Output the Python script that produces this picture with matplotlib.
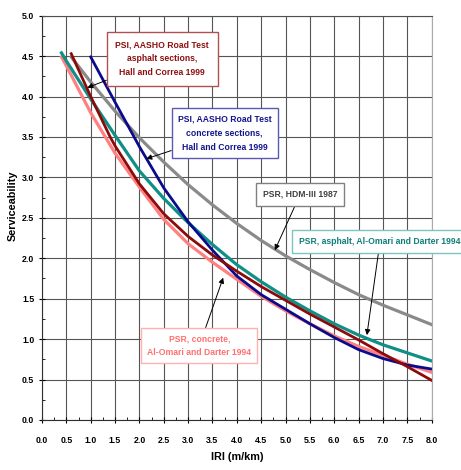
import numpy as np
import matplotlib.pyplot as plt
from matplotlib.ticker import MultipleLocator

# IRI (m/km) values and serviceability
iri_hdm = [0.6, 1.0, 1.5, 2.0, 2.5, 3.0, 3.5, 4.0, 4.5, 5.0, 5.5, 6.0, 6.5, 7.0, 7.5, 8.0]
psr_hdm = [4.49, 4.18, 3.82, 3.49, 3.19, 2.91, 2.66, 2.43, 2.22, 2.03, 1.86, 1.70, 1.55, 1.42, 1.30, 1.18]

iri_ac_om = [0.4, 0.5, 1.0, 1.5, 2.0, 2.5, 3.0, 3.5, 4.0, 4.5, 5.0, 5.5, 6.0, 6.5, 7.0, 7.5, 8.0]
psr_ac_om = [4.54, 4.44, 3.97, 3.52, 3.08, 2.74, 2.44, 2.17, 1.92, 1.71, 1.52, 1.35, 1.19, 1.05, 0.93, 0.83, 0.73]

iri_pcc_om = [0.4, 0.5, 1.0, 1.5, 2.0, 2.5, 3.0, 3.5, 4.0, 4.5, 5.0, 5.5, 6.0, 6.5, 7.0, 7.5, 8.0]
psr_pcc_om = [4.49, 4.38, 3.80, 3.30, 2.88, 2.48, 2.18, 1.95, 1.74, 1.53, 1.35, 1.19, 1.04, 0.91, 0.80, 0.69, 0.59]

iri_ac_hc = [0.6, 1.0, 1.4, 1.5, 2.0, 2.5, 3.0, 3.5, 4.0, 4.5, 5.0, 5.5, 6.0, 6.5, 7.0, 7.5, 8.0]
psi_ac_hc = [4.53, 4.00, 3.50, 3.39, 2.92, 2.55, 2.27, 2.04, 1.84, 1.65, 1.48, 1.31, 1.15, 0.99, 0.82, 0.66, 0.49]

iri_pcc_hc = [1.0, 1.5, 2.0, 2.5, 3.0, 3.5, 4.0, 4.5, 5.0, 5.5, 6.0, 6.5, 7.0, 7.5, 8.0]
psi_pcc_hc = [4.49, 3.93, 3.38, 2.87, 2.45, 2.10, 1.78, 1.55, 1.37, 1.19, 1.02, 0.87, 0.76, 0.68, 0.63]

plt.rcParams['font.family'] = ['Liberation Sans', 'DejaVu Sans']

fig = plt.figure(figsize=(4.61, 4.70), dpi=100)
ax = fig.add_axes([0.0911, 0.1064, 0.8453, 0.8602])

ax.plot(iri_hdm, psr_hdm, color='#8a8a8a', lw=2.3)
ax.plot(iri_pcc_om, psr_pcc_om, color='#ff8080', lw=2.3)
ax.plot(iri_ac_om, psr_ac_om, color='#0f8f86', lw=2.3)
ax.plot(iri_pcc_hc, psi_pcc_hc, color='#0a0a8c', lw=2.0)
ax.plot(iri_ac_hc, psi_ac_hc, color='#8c0a0a', lw=2.0)

ax.set_xlim(0, 8)
ax.set_ylim(0, 5)
ax.xaxis.set_major_locator(MultipleLocator(0.5))
ax.yaxis.set_major_locator(MultipleLocator(0.5))
ax.xaxis.set_minor_locator(MultipleLocator(0.25))
ax.yaxis.set_minor_locator(MultipleLocator(0.25))
ax.xaxis.set_major_formatter(plt.FormatStrFormatter('%.1f'))
ax.yaxis.set_major_formatter(plt.FormatStrFormatter('%.1f'))
ax.grid(True, which='major', color='#555555', lw=0.8)
ax.set_axisbelow(True)
ax.tick_params(which='major', direction='inout', length=5, width=0.8, labelsize=6.3)
ax.tick_params(axis='x', which='major', pad=9)
ax.tick_params(axis='y', which='major', pad=3)
ax.tick_params(which='minor', direction='in', length=2.5, width=0.6)
for lab in ax.get_xticklabels() + ax.get_yticklabels():
    lab.set_fontweight('bold')
ax.spines['right'].set_color('#aaaaaa')
ax.spines['top'].set_color('#505050')
ax.spines['left'].set_color('#303030')
ax.spines['bottom'].set_color('#303030')

ax.set_xlabel('IRI (m/km)', fontsize=7.8, fontweight='bold')
ax.set_ylabel('Serviceability', fontsize=7.8, fontweight='bold')
ax.xaxis.set_label_coords(0.5, -0.08)
ax.yaxis.set_label_coords(-0.062, 0.53)

arrow = dict(arrowstyle='-|>', color='black', lw=0.7, mutation_scale=8, shrinkA=0, shrinkB=0)
fs = 6.2

ax.annotate('PSI, AASHO Road Test\nasphalt sections,\nHall and Correa 1999',
            xy=(0.93, 4.11), xytext=(2.47, 4.47), ha='center', va='center',
            fontsize=fs, fontweight='bold', color='#8c1010', linespacing=1.7,
            bbox=dict(boxstyle='square,pad=1.0', fc='white', ec='#b05050', lw=1.0),
            arrowprops=arrow)
ax.annotate('PSI, AASHO Road Test\nconcrete sections,\nHall and Correa 1999',
            xy=(2.14, 3.23), xytext=(3.75, 3.55), ha='center', va='center',
            fontsize=fs, fontweight='bold', color='#14148c', linespacing=1.75,
            bbox=dict(boxstyle='square,pad=0.7', fc='white', ec='#5a5ab4', lw=1.0),
            arrowprops=arrow)
ax.annotate('PSR, HDM-III 1987',
            xy=(4.78, 2.10), xytext=(5.30, 2.79), ha='center', va='center',
            fontsize=fs, fontweight='bold', color='#404040',
            bbox=dict(boxstyle='square,pad=0.8', fc='white', ec='#808080', lw=1.0),
            arrowprops=arrow)
ax.annotate('PSR, asphalt, Al-Omari and Darter 1994',
            xy=(6.67, 1.05), xytext=(6.94, 2.21), ha='center', va='center',
            fontsize=fs, fontweight='bold', color='#0f7f7a', annotation_clip=False,
            bbox=dict(boxstyle='square,pad=0.8', fc='white', ec='#7cc4c0', lw=1.0),
            arrowprops=arrow)
ax.annotate('PSR, concrete,\nAl-Omari and Darter 1994',
            xy=(3.72, 1.76), xytext=(3.23, 0.92), ha='center', va='center',
            fontsize=fs, fontweight='bold', color='#ff7070', linespacing=1.7,
            bbox=dict(boxstyle='square,pad=0.7', fc='white', ec='#ffb0b0', lw=1.0),
            arrowprops=arrow)

fig.savefig('out.png', dpi=100)
